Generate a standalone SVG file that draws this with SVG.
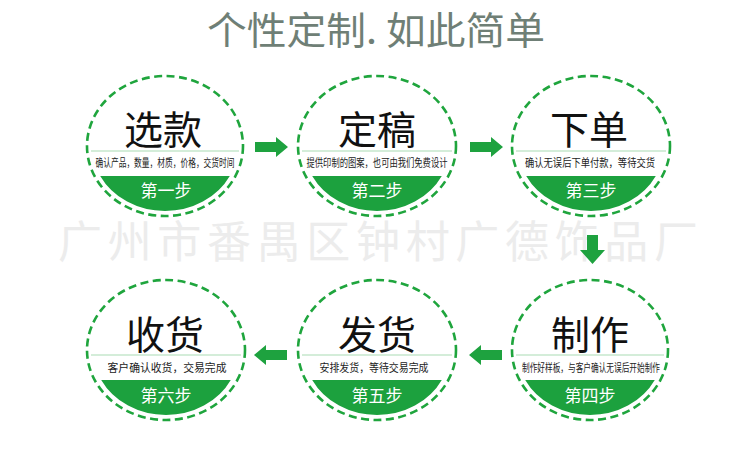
<svg xmlns="http://www.w3.org/2000/svg" width="750" height="470" viewBox="0 0 750 470">
<defs>
<style>
text{font-family:"Noto Sans CJK SC","Noto Sans",sans-serif;}
.ring{fill:#fff;stroke:#1fa53d;stroke-width:2.6;stroke-dasharray:8 4.5;}
.band{fill:#1ca13e;}
.sep{stroke:#a9dbb3;stroke-width:1.2;}
.big{font-size:39px;fill:#111;text-anchor:middle;}
.sub{font-size:11px;fill:#222;text-anchor:middle;}
.step{font-size:17px;fill:#fff;text-anchor:middle;}
.arrow{fill:#1ea23f;}
</style>
</defs>
<rect width="750" height="470" fill="#fff"/>
<text x="376" y="44" font-size="38" fill="#6f7f76" text-anchor="middle" textLength="338" lengthAdjust="spacingAndGlyphs">个性定制. 如此简单</text>
<text x="58" y="258" font-size="44" fill="#ececec" textLength="640" lengthAdjust="spacing">广州市番禺区钟村广德饰品厂</text>

<g id="step1" transform="translate(165,146)">
<ellipse class="ring" rx="78" ry="70"/>
<path class="band" d="M-64.8,30 A73 65 0 0 0 64.8,30 Z"/>
<line class="sep" x1="-74" y1="5" x2="74" y2="5"/>
<text class="big" x="-2" y="-2">选款</text>
<text class="sub" x="0" y="21" textLength="139" lengthAdjust="spacingAndGlyphs">确认产品，数量，材质，价格，交货时间</text>
<text class="step" x="1" y="51">第一步</text>
</g>
<g id="step2" transform="translate(377,146)">
<ellipse class="ring" rx="79" ry="70"/>
<path class="band" d="M-64.8,30 A73 65 0 0 0 64.8,30 Z"/>
<line class="sep" x1="-75" y1="5" x2="75" y2="5"/>
<text class="big" x="0" y="-2">定稿</text>
<text class="sub" x="0" y="21" textLength="141" lengthAdjust="spacingAndGlyphs">提供印制的图案，也可由我们免费设计</text>
<text class="step" x="0" y="51">第二步</text>
</g>
<g id="step3" transform="translate(591,146)">
<ellipse class="ring" rx="79" ry="70"/>
<path class="band" d="M-64.8,30 A73 65 0 0 0 64.8,30 Z"/>
<line class="sep" x1="-75" y1="5" x2="75" y2="5"/>
<text class="big" x="-2" y="-2">下单</text>
<text class="sub" x="-1" y="21" textLength="130" lengthAdjust="spacingAndGlyphs">确认无误后下单付款，等待交货</text>
<text class="step" x="0" y="51">第三步</text>
</g>
<g id="step4" transform="translate(590,350)">
<ellipse class="ring" rx="78" ry="70"/>
<path class="band" d="M-64.8,30 A73 65 0 0 0 64.8,30 Z"/>
<line class="sep" x1="-74" y1="5" x2="74" y2="5"/>
<text class="big" x="0" y="-1">制作</text>
<text class="sub" x="1" y="22" textLength="138" lengthAdjust="spacingAndGlyphs">制作好样板，与客户确认无误后开始制作</text>
<text class="step" x="0" y="52">第四步</text>
</g>
<g id="step5" transform="translate(377,350)">
<ellipse class="ring" rx="79" ry="70"/>
<path class="band" d="M-64.8,30 A73 65 0 0 0 64.8,30 Z"/>
<line class="sep" x1="-75" y1="5" x2="75" y2="5"/>
<text class="big" x="0" y="-1">发货</text>
<text class="sub" x="-3" y="22" textLength="109" lengthAdjust="spacingAndGlyphs">安排发货，等待交易完成</text>
<text class="step" x="0" y="52">第五步</text>
</g>
<g id="step6" transform="translate(166,350)">
<ellipse class="ring" rx="79" ry="70"/>
<path class="band" d="M-64.8,30 A73 65 0 0 0 64.8,30 Z"/>
<line class="sep" x1="-75" y1="5" x2="75" y2="5"/>
<text class="big" x="-1" y="-1">收货</text>
<text class="sub" x="1" y="22" textLength="119" lengthAdjust="spacingAndGlyphs">客户确认收货，交易完成</text>
<text class="step" x="0" y="52">第六步</text>
</g>

<g id="connectors">
<path class="arrow" d="M255,142 H276 V137 L288,147 L276,157 V152 H255 Z"/>
<path class="arrow" d="M470,142 H491 V137 L503,147 L491,157 V152 H470 Z"/>
<path class="arrow" d="M587,235 H598 V250 H605 L592.5,264 L580,250 H587 Z"/>
<path class="arrow" d="M502,350 H481 V345 L469,355 L481,365 V360 H502 Z"/>
<path class="arrow" d="M287,350 H266 V345 L254,355 L266,365 V360 H287 Z"/>
</g>
</svg>
